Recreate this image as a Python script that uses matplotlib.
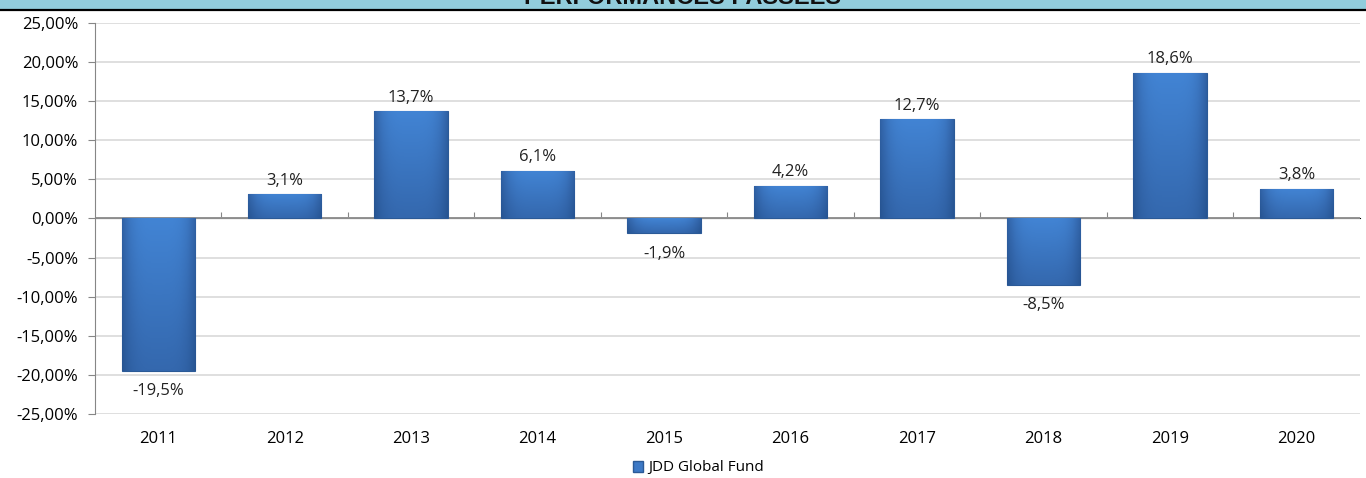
import numpy as np
import matplotlib.pyplot as plt
from matplotlib.lines import Line2D

years = ["2011", "2012", "2013", "2014", "2015", "2016", "2017", "2018", "2019", "2020"]
perf = [-19.5, 3.1, 13.7, 6.1, -1.9, 4.2, 12.7, -8.5, 18.6, 3.8]
yticks = [-25, -20, -15, -10, -5, 0, 5, 10, 15, 20, 25]
series_name = "JDD Global Fund"
title = "PERFORMANCES PASSÉES"

plt.rcParams['font.family'] = ['Open Sans', 'DejaVu Sans']

fig = plt.figure(figsize=(13.66, 4.78), dpi=100)
ax = fig.add_axes([0.0695, 0.134, 0.926, 0.818])

# title band (title is cut by the top edge, as in the original export)
band = plt.Rectangle((0, 1 - 9 / 478), 1, 9 / 478, transform=fig.transFigure,
                     facecolor="#92CDDC", edgecolor="none", zorder=0)
fig.patches.append(band)
fig.add_artist(Line2D([0, 1], [1 - 9.5 / 478] * 2, transform=fig.transFigure,
                      color="black", lw=1.6))
fig.text(0.5, 1 - 4 / 478, title, ha="center", va="baseline",
         fontsize=17, fontweight="bold", family="Liberation Sans", color="#111111")

x = np.arange(len(years))
bars = ax.bar(x, perf, width=0.58, color="#3D79C6", edgecolor="#2B5A97",
              linewidth=0.8, zorder=3)

# light gradient on each bar (lighter at top, darker towards bottom and sides)
grad = np.linspace(0, 1, 64)
gx = 1 - 0.45 * np.abs(np.linspace(-1, 1, 64)) ** 4
img = np.outer(1 - 0.35 * grad, gx)
cmap = plt.matplotlib.colors.LinearSegmentedColormap.from_list(
    "b", ["#24508C", "#3468AE", "#4284D4"])
for b in bars:
    x0, y0 = b.get_x(), b.get_y()
    w, h = b.get_width(), b.get_height()
    lo, hi = min(y0, y0 + h), max(y0, y0 + h)
    im = ax.imshow(img, extent=(x0, x0 + w, lo, hi), origin="upper",
                   cmap=cmap, vmin=0.3, vmax=1.0, aspect="auto", zorder=3.5)
    im.set_clip_path(b)

for xi, v in zip(x, perf):
    label = f"{v:.1f}%".replace(".", ",")
    if v >= 0:
        ax.annotate(label, (xi, v), xytext=(0, 4), textcoords="offset points",
                    ha="center", va="bottom", fontsize=12, color="#222222")
    else:
        ax.annotate(label, (xi, v), xytext=(0, -9), textcoords="offset points",
                    ha="center", va="top", fontsize=12, color="#222222")

ax.set_xlim(-0.5, len(years) - 0.5)
ax.set_ylim(-25, 25)
ax.set_yticks(yticks)
ax.set_yticklabels([f"{t:.2f}%".replace(".", ",") for t in yticks], fontsize=12)
ax.set_xticks(x)
ax.set_xticklabels(years, fontsize=12)
ax.tick_params(axis="x", length=0, pad=12)
ax.tick_params(axis="y", length=5, color="#868686", pad=7)
ax.grid(axis="y", color="#D9D9D9", lw=1.2, zorder=0)
ax.set_axisbelow(True)
for s in ["top", "right", "bottom"]:
    ax.spines[s].set_visible(False)
ax.spines["left"].set_color("#868686")

# zero line with category separators
ax.axhline(0, color="#868686", lw=1.2, zorder=2)
sec = ax.secondary_xaxis(0.5)
sec.set_xticks(np.arange(len(years) - 1) + 0.5, labels=[""] * (len(years) - 1))
sec.tick_params(length=4, color="#868686", labelbottom=False, labeltop=False)
sec.spines["bottom"].set_visible(False)

handle = plt.Rectangle((0, 0), 1, 1, facecolor="#3D79C6", edgecolor="#2B5A97")
fig.legend([handle], [series_name], loc="center", bbox_to_anchor=(0.511, 1 - 468 / 478),
           frameon=False, fontsize=11, handlelength=0.7, handleheight=0.7,
           handletextpad=0.3)

fig.savefig("out.png", dpi=100)
